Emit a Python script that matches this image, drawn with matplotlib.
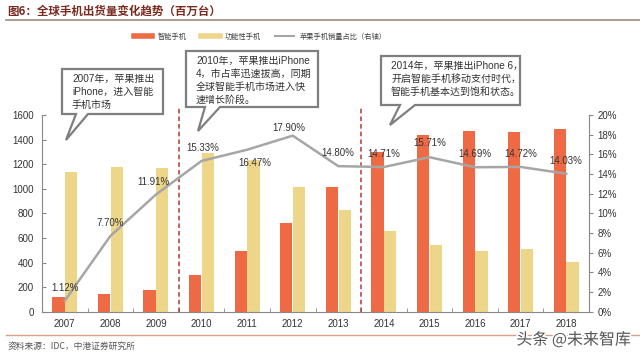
import matplotlib
matplotlib.use("Agg")
import matplotlib.pyplot as plt
from matplotlib.lines import Line2D
from matplotlib.patches import Polygon
import matplotlib.patheffects as pe
import numpy as np

plt.rcParams['font.family'] = ['Liberation Sans', 'Noto Sans CJK SC', 'DejaVu Sans']

years = ['2007', '2008', '2009', '2010', '2011', '2012', '2013',
         '2014', '2015', '2016', '2017', '2018']
smart = [122, 145, 173, 300, 492, 724, 1018, 1300, 1435, 1470, 1458, 1490]
feature = [1140, 1180, 1168, 1288, 1232, 1012, 826, 660, 540, 496, 508, 404]
apple_share = [1.12, 7.70, 11.91, 15.33, 16.47, 17.90, 14.80, 14.71, 15.71, 14.69, 14.72, 14.03]
left_ticks = [0, 200, 400, 600, 800, 1000, 1200, 1400, 1600]
right_ticks = [0, 2, 4, 6, 8, 10, 12, 14, 16, 18, 20]

title = "图6：全球手机出货量变化趋势（百万台）"
legend_labels = ["智能手机", "功能性手机", "苹果手机销量占比（右轴）"]
notes = ["2007年，苹果推出\niPhone，进入智能\n手机市场",
         "2010年，苹果推出iPhone\n4，市占率迅速拔高，同期\n全球智能手机市场进入快\n速增长阶段。",
         "2014年，苹果推出iPhone 6，\n开启智能手机移动支付时代，\n智能手机基本达到饱和状态。"]
source = "资料来源：IDC，中港证券研究所"
watermark = "头条 @未来智库"

C_SMART = '#EE6A44'
C_FEAT = '#EDD68A'
C_LINE = '#A6A6A6'
C_TXT = '#333333'

W, H = 640, 353
fig = plt.figure(figsize=(6.4, 3.53), dpi=100)

def fx(x):
    return x / W

def fy(y):
    return 1 - y / H

ax = fig.add_axes([fx(42), fy(311.7), fx(589) - fx(42), fy(115) - fy(311.7)])
ax2 = ax.twinx()

x = np.arange(len(years))
bw = 0.27
ax.bar(x - 0.14, smart, bw, color=C_SMART, zorder=2)
ax.bar(x + 0.14, feature, bw, color=C_FEAT, zorder=2)
ax.set_xlim(-0.5, len(years) - 0.5)
ax.set_ylim(0, 1600)
ax.set_yticks(left_ticks)
ax.set_xticks(x)
ax.set_xticklabels(years)
ax.set_xticks(np.arange(len(years) + 1) - 0.5, minor=True)
ax.tick_params(axis='x', which='major', length=0, labelsize=7, colors=C_TXT, pad=5)
ax.tick_params(axis='x', which='minor', length=3, direction='in', color='#888888')
ax.tick_params(axis='y', length=3, direction='in', labelsize=7, colors=C_TXT, color='#888888', pad=6)
for s in ['top', 'right']:
    ax.spines[s].set_visible(False)
for s in ['left', 'bottom']:
    ax.spines[s].set_color('#888888')
    ax.spines[s].set_linewidth(0.8)

vals = np.array(apple_share) / 100
ax2.plot(x, vals, color=C_LINE, lw=1.8, zorder=3)
ax2.set_ylim(0, 0.20)
ax2.set_yticks(np.array(right_ticks) / 100)
ax2.set_yticklabels([f"{t}%" for t in right_ticks])
ax2.tick_params(axis='y', length=3, direction='out', labelsize=7, colors=C_TXT, color='#888888', pad=3)
for s in ['top', 'left', 'bottom']:
    ax2.spines[s].set_visible(False)
ax2.spines['right'].set_color('#888888')
ax2.spines['right'].set_linewidth(0.8)

# label offsets in pixels (dx, dy up)
offs = [(0, 13), (0, 13), (-3, 13), (1, 13), (8, -13), (-4, 8), (-1, 13),
        (0, 13), (0, 14), (0, 13), (0, 13), (0, 13)]
for xi, v, s, (dx, dy) in zip(x, vals, apple_share, offs):
    ax2.annotate(f"{s:.2f}%", (xi, v), xytext=(dx * 0.72, dy * 0.72),
                 textcoords='offset points', ha='center', va='center',
                 fontsize=7, color=C_TXT, zorder=5)

# vertical dashed separators
for xv in [2.5, 6.5]:
    ax.axvline(xv, ymin=0, ymax=1.045, color='#B03A2E', lw=1.1,
               ls=(0, (3, 2)), clip_on=False, zorder=4)

# callout bubbles (pixel coordinates of the picture)
def bubble(l, t, r, b, b1, b2, tip, text, fs=7.2):
    pts = [(l, t), (r, t), (r, b), (b2, b), tip, (b1, b), (l, b)]
    poly = Polygon([(fx(px), fy(py)) for px, py in pts], closed=True,
                   transform=fig.transFigure, facecolor='white',
                   edgecolor='#7F7F7F', lw=1.6, zorder=10)
    fig.patches.append(poly)
    fig.text(fx(l + 10), fy(t + 5), text, ha='left', va='top', fontsize=fs,
             color=C_TXT, linespacing=1.35, zorder=11,
             family=['Liberation Sans', 'Noto Sans CJK SC'])

bubble(62, 69, 163, 114, 76, 88, (66, 140), notes[0])
bubble(186, 51, 318, 107, 205, 220, (198, 131), notes[1])
bubble(381, 56, 520, 105, 400, 415, (390, 125), notes[2])

# legend
handles = [Line2D([], [], color=C_SMART, lw=4),
           Line2D([], [], color=C_FEAT, lw=4),
           Line2D([], [], color=C_LINE, lw=1.5)]
fig.legend(handles, legend_labels, loc='center', bbox_to_anchor=(fx(260), fy(37)),
           ncol=3, frameon=False, handlelength=2.6,
           columnspacing=2.0, handletextpad=0.7, labelcolor='#404040',
           prop={'family': ['Noto Sans CJK SC'], 'size': 5.2})

# title and rules
fig.text(fx(7), fy(11), title, ha='left', va='center', fontsize=8.3,
         fontweight='bold', color='#7A2A1F', family=['Noto Sans CJK SC'])
fig.add_artist(Line2D([fx(6), fx(640)], [fy(20), fy(20)], color='#A08A80', lw=1.2,
                      transform=fig.transFigure))
fig.add_artist(Line2D([fx(6), fx(640)], [fy(335), fy(335)], color='#D9A085', lw=1.0,
                      transform=fig.transFigure))
fig.text(fx(8), fy(346), source, ha='left', va='center', fontsize=6.3,
         style='italic', color='#555555', family=['Noto Sans CJK SC'])
fig.text(fx(631), fy(340), watermark, ha='right', va='center', fontsize=11.5,
         color='#555555', family=['Noto Sans CJK SC'], zorder=20,
         path_effects=[pe.withStroke(linewidth=2.5, foreground='white')])

fig.savefig('out.png', dpi=100)
